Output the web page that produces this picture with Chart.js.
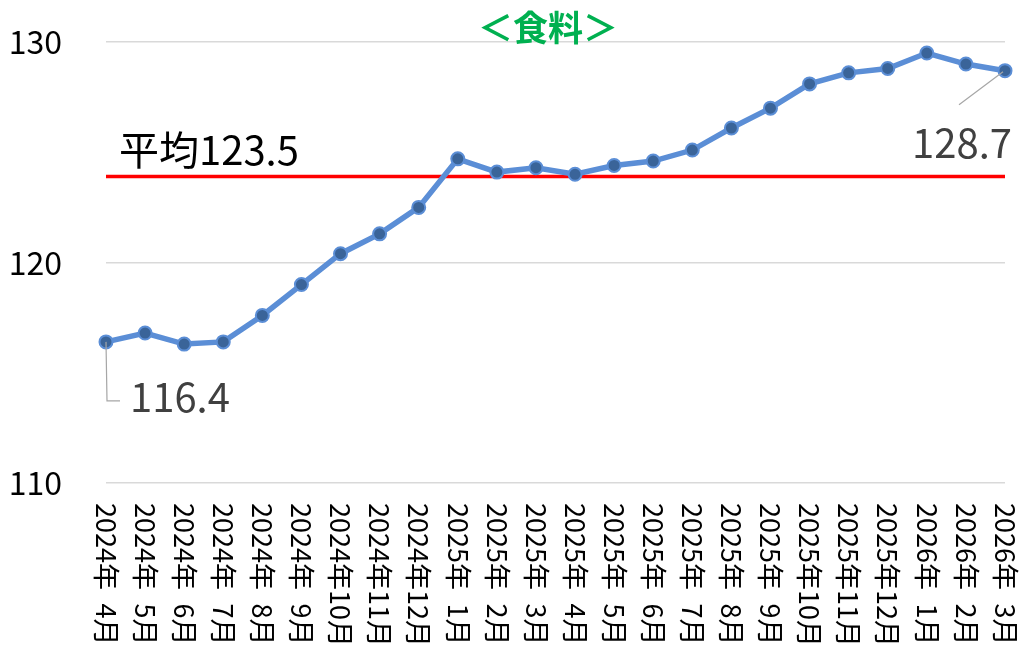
<!DOCTYPE html>
<html>
<head>
<meta charset="utf-8">
<script src="https://cdn.jsdelivr.net/npm/chart.js@4"></script>
<style>
  body { margin: 0; background: #fff; }
</style>
</head>
<body>
<canvas id="myChart" width="1019" height="649"></canvas>
<script>
var months = ['2024年\u20024月','2024年\u20025月','2024年\u20026月','2024年\u20027月','2024年\u20028月','2024年\u20029月',
  '2024年10月','2024年11月','2024年12月','2025年\u20021月','2025年\u20022月','2025年\u20023月',
  '2025年\u20024月','2025年\u20025月','2025年\u20026月','2025年\u20027月','2025年\u20028月','2025年\u20029月',
  '2025年10月','2025年11月','2025年12月','2026年\u20021月','2026年\u20022月','2026年\u20023月'];
var food = [116.4,116.8,116.3,116.4,117.6,119.0,120.4,121.3,122.5,124.7,124.1,124.3,
  124.0,124.4,124.6,125.1,126.1,127.0,128.1,128.6,128.8,129.5,129.0,128.7];
var avgLevel = 123.9;   // where the red line sits in the picture
var avgText = '平均123.5';
var yTicks = [110, 120, 130];
var chartTitle = '＜食料＞';

var font = "'Noto Sans CJK JP', sans-serif";

// title, average label, first/last value labels, vertical month labels
var extras = {
  id: 'extras',
  afterDraw: function(chart) {
    var c = chart.ctx;
    var xs = chart.scales.x, ys = chart.scales.y;
    c.save();

    c.fillStyle = '#00B050';
    c.font = 'bold 35px ' + font;
    c.textAlign = 'center';
    c.textBaseline = 'middle';
    c.fillText(chartTitle, 548, 28);

    var ay = ys.getPixelForValue(avgLevel);
    c.fillStyle = '#000';
    c.font = '40px ' + font;
    c.textAlign = 'left';
    c.textBaseline = 'alphabetic';
    c.fillText(avgText, chart.chartArea.left + 13, ay - 12);

    var last = food.length - 1;
    var x0 = xs.getPixelForValue(0), y0 = ys.getPixelForValue(food[0]);
    var x1 = xs.getPixelForValue(last), y1 = ys.getPixelForValue(food[last]);
    c.strokeStyle = '#a6a6a6';
    c.lineWidth = 1.2;
    c.beginPath();
    c.moveTo(x0, y0);
    c.lineTo(x0 + 1, y0 + 59);
    c.lineTo(x0 + 14, y0 + 59);
    c.moveTo(x1 - 2, y1 + 1);
    c.lineTo(x1 - 46, y1 + 34);
    c.stroke();
    c.fillStyle = '#404040';
    c.font = '40px ' + font;
    c.fillText(food[0].toFixed(1), x0 + 24, y0 + 70);
    c.textAlign = 'right';
    c.fillText(food[last].toFixed(1), x1 + 7, y1 + 87);

    c.fillStyle = '#000';
    c.font = '27px ' + font;
    c.textAlign = 'left';
    c.textBaseline = 'middle';
    xs.ticks.forEach(function(t, i) {
      c.save();
      c.translate(xs.getPixelForTick(i), xs.top + 20);
      c.rotate(Math.PI / 2);
      c.fillText(months[i], 0, 0);
      c.restore();
    });
    c.restore();
  }
};

var ctx = document.getElementById('myChart').getContext('2d');
var myChart = new Chart(ctx, {
  type: 'line',
  data: {
    labels: months,
    datasets: [{
      data: food,
      borderColor: '#5B8ED6',
      borderWidth: 5.5,
      pointRadius: 6.5,
      pointBorderWidth: 2,
      pointBackgroundColor: '#3A6499',
      pointBorderColor: '#5B8ED6',
      tension: 0,
      order: 1
    }, {
      data: months.map(function() { return avgLevel; }),
      borderColor: '#FF0000',
      borderWidth: 3.5,
      pointRadius: 0,
      order: 2
    }]
  },
  options: {
    responsive: false,
    animation: false,
    layout: { padding: { top: 42, right: 14, left: 0, bottom: 0 } },
    plugins: { legend: { display: false }, tooltip: { enabled: false } },
    scales: {
      x: {
        offset: false,
        grid: { display: false },
        border: { display: false },
        ticks: { display: false },
        afterFit: function(s) { s.height = 166; }
      },
      y: {
        min: 110, max: 130,
        afterBuildTicks: function(s) { s.ticks = yTicks.map(function(v) { return { value: v }; }); },
        grid: { color: '#d9d9d9', lineWidth: 1.5, drawTicks: false },
        border: { display: false },
        ticks: { color: '#000', font: { family: font, size: 32 }, padding: 44 },
        afterFit: function(s) { s.width = 106; s.paddingTop = 0; s.paddingBottom = 0; }
      }
    }
  },
  plugins: [extras]
});
</script>
</body>
</html>
